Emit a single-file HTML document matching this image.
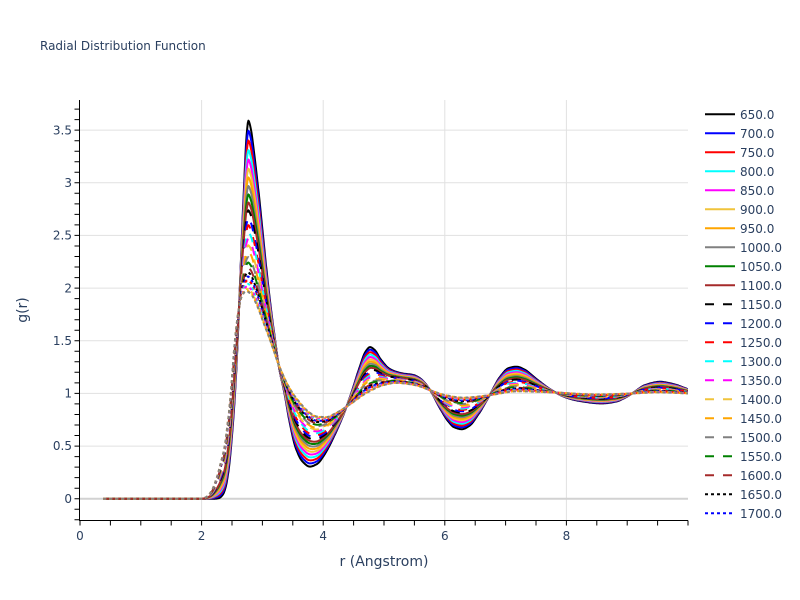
<!DOCTYPE html>
<html><head><meta charset="utf-8">
<style>
html,body{margin:0;padding:0;background:#fff;width:800px;height:600px;overflow:hidden}
svg{display:block}
text{font-family:"DejaVu Sans","Liberation Sans",sans-serif;fill:#2a3f5f}
</style></head>
<body>
<svg id="s" width="800" height="600" xmlns="http://www.w3.org/2000/svg">
<defs><clipPath id="cp"><rect x="80" y="100" width="608" height="420"/></clipPath></defs>
<rect x="0" y="0" width="800" height="600" fill="#fff"/>
<g id="grid"></g>
<g id="curves" clip-path="url(#cp)"></g>
<g id="axes"></g>
<g id="leg"></g>

<text x="40" y="50" font-size="12">Radial Distribution Function</text>

<g font-size="12" text-anchor="end">
<text x="72" y="502.9">0</text>
<text x="72" y="450.2">0.5</text>
<text x="72" y="397.6">1</text>
<text x="72" y="344.9">1.5</text>
<text x="72" y="292.3">2</text>
<text x="72" y="239.6">2.5</text>
<text x="72" y="187">3</text>
<text x="72" y="134.3">3.5</text>
</g>
<g font-size="12" text-anchor="middle">
<text x="80" y="540">0</text>
<text x="201.6" y="540">2</text>
<text x="323.2" y="540">4</text>
<text x="444.8" y="540">6</text>
<text x="566.4" y="540">8</text>
</g>
<text x="384" y="566" font-size="14" text-anchor="middle">r (Angstrom)</text>
<text x="27" y="310" font-size="14" text-anchor="middle" transform="rotate(-90 27 310)">g(r)</text>

<g font-size="12">
<text x="740" y="118.8">650.0</text>
<text x="740" y="137.8">700.0</text>
<text x="740" y="156.8">750.0</text>
<text x="740" y="175.8">800.0</text>
<text x="740" y="194.8">850.0</text>
<text x="740" y="213.8">900.0</text>
<text x="740" y="232.8">950.0</text>
<text x="740" y="251.8">1000.0</text>
<text x="740" y="270.8">1050.0</text>
<text x="740" y="289.8">1100.0</text>
<text x="740" y="308.8">1150.0</text>
<text x="740" y="327.8">1200.0</text>
<text x="740" y="346.8">1250.0</text>
<text x="740" y="365.8">1300.0</text>
<text x="740" y="384.8">1350.0</text>
<text x="740" y="403.8">1400.0</text>
<text x="740" y="422.8">1450.0</text>
<text x="740" y="441.8">1500.0</text>
<text x="740" y="460.8">1550.0</text>
<text x="740" y="479.8">1600.0</text>
<text x="740" y="498.8">1650.0</text>
<text x="740" y="517.8">1700.0</text>
</g>
</svg>
<script>
(function(){
var X0=80,SX=60.8,Y0=498.7,SY=105.3;
function px(r){return X0+SX*r}
function py(g){return Y0-SY*g}
var NS="http://www.w3.org/2000/svg";
function el(p,tag,a){var e=document.createElementNS(NS,tag);for(var k in a)e.setAttribute(k,a[k]);p.appendChild(e);return e;}

var grid=document.getElementById('grid');
var d='';
[2,4,6,8].forEach(function(r){d+='M'+px(r).toFixed(1)+',100V520';});
[0.5,1,1.5,2,2.5,3,3.5].forEach(function(g){d+='M80,'+py(g).toFixed(1)+'H688';});
el(grid,'path',{d:d,stroke:'#e1e1e1','stroke-width':1,fill:'none'});
el(grid,'path',{d:'M80,'+py(0).toFixed(1)+'H688',stroke:'#d2d2d2','stroke-width':2,fill:'none'});

var ax=document.getElementById('axes');
d='M79.5,100V520.5M79,520.5H688';
for(var i=0;i<=20;i++){d+='M'+px(i*0.5).toFixed(1)+',520.5v5';}
for(var i=-2;i<=37;i++){d+='M79.5,'+py(i/10).toFixed(1)+'h-5';}
el(ax,'path',{d:d,stroke:'#000','stroke-width':1,fill:'none'});

function pchip(pts){
 var n=pts.length,x=[],y=[],h=[],s=[],m=[];
 for(var i=0;i<n;i++){x.push(pts[i][0]);y.push(pts[i][1]);}
 for(var i=0;i<n-1;i++){h[i]=x[i+1]-x[i];s[i]=(y[i+1]-y[i])/h[i];}
 m[0]=s[0];m[n-1]=s[n-2];
 for(var i=1;i<n-1;i++){
  if(s[i-1]*s[i]<=0)m[i]=0;
  else{var w1=2*h[i]+h[i-1],w2=h[i]+2*h[i-1];m[i]=(w1+w2)/(w1/s[i-1]+w2/s[i]);}
 }
 return function(t){
  var i=0;while(i<n-2&&t>x[i+1])i++;
  var hh=h[i],u=(t-x[i])/hh,u2=u*u,u3=u2*u;
  return (2*u3-3*u2+1)*y[i]+(u3-2*u2+u)*hh*m[i]+(-2*u3+3*u2)*y[i+1]+(u3-u2)*hh*m[i+1];
 };
}
var C=pchip([[0.38,0],[2.2,0],[2.28,0.005],[2.35,0.04],[2.4,0.12],[2.45,0.3],[2.5,0.6],[2.55,1.0],[2.6,1.6],[2.65,2.3],[2.7,3.0],[2.74,3.45],[2.77,3.59],[2.8,3.54],[2.86,3.3],[2.93,2.95],[3.01,2.5],[3.1,2.0],[3.21,1.5],[3.27,1.26],[3.37,0.98],[3.45,0.72],[3.55,0.48],[3.65,0.36],[3.78,0.305],[3.9,0.33],[4.0,0.4],[4.1,0.5],[4.2,0.62],[4.3,0.75],[4.4,0.9],[4.5,1.07],[4.6,1.25],[4.7,1.4],[4.77,1.44],[4.85,1.41],[4.95,1.32],[5.1,1.23],[5.3,1.19],[5.48,1.175],[5.6,1.14],[5.76,1.03],[5.9,0.88],[6.05,0.74],[6.15,0.68],[6.28,0.66],[6.4,0.69],[6.55,0.8],[6.74,0.985],[6.9,1.15],[7.05,1.24],[7.18,1.254],[7.3,1.23],[7.5,1.14],[7.76,1.03],[8.0,0.96],[8.2,0.93],[8.58,0.905],[8.8,0.92],[9.0,0.97],[9.1,1.007],[9.3,1.08],[9.54,1.11],[9.75,1.09],[10,1.04]]);
var H=pchip([[0.38,0],[2.0,0],[2.06,0.01],[2.15,0.06],[2.25,0.2],[2.32,0.35],[2.38,0.5],[2.43,0.72],[2.48,1.0],[2.54,1.45],[2.6,1.76],[2.66,1.92],[2.73,1.97],[2.8,1.95],[2.9,1.85],[3.0,1.7],[3.13,1.5],[3.27,1.27],[3.4,1.1],[3.5,1.0],[3.62,0.91],[3.75,0.83],[3.9,0.78],[4.05,0.775],[4.2,0.81],[4.45,0.9],[4.7,1.0],[5.0,1.08],[5.2,1.1],[5.5,1.08],[5.76,1.03],[6.0,0.985],[6.3,0.96],[6.7,0.98],[7.2,1.02],[7.76,1.01],[8.5,0.99],[9.1,1.0],[9.5,1.01],[10,1.0]]);

var rs=[],cv=[],hv=[];
for(var r=0.38;r<=10.0001;r+=0.01){rs.push(r);cv.push(C(r));hv.push(H(r));}
var cols=['#000000','#0000ff','#ff0000','#00ffff','#ff00ff','#f0c43c','#ffa500','#808080','#008000','#a52a2a'];
var N=28,g=document.getElementById('curves');
for(var k=0;k<N;k++){
 var t=k/(N-1),w=1-Math.pow(1-t,1.6);
 var dd='';
 for(var j=0;j<rs.length;j++){
  var v=(1-w)*cv[j]+w*hv[j];
  dd+=(j?'L':'M')+px(rs[j]).toFixed(1)+','+py(v).toFixed(1);
 }
 var a={d:dd,stroke:cols[k%10],'stroke-width':2,fill:'none','stroke-linejoin':'round'};
 if(k>=10&&k<20)a['stroke-dasharray']='9,9';
 if(k>=20)a['stroke-dasharray']='3,3';
 el(g,'path',a);
}
var lg=document.getElementById('leg');
for(var i=0;i<22;i++){
 var y=114.3+19*i;
 var a={d:'M705,'+y.toFixed(1)+'H735',stroke:cols[i%10],'stroke-width':2,fill:'none'};
 if(i>=10&&i<20)a['stroke-dasharray']='9,9';
 if(i>=20)a['stroke-dasharray']='3,3';
 el(lg,'path',a);
}
})();
</script>
</body></html>
